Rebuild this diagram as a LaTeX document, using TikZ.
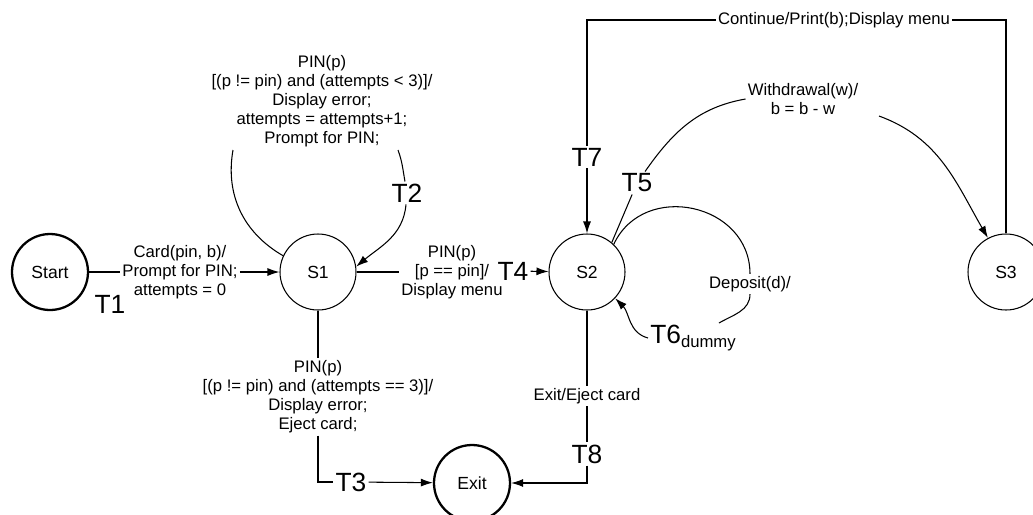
\documentclass[tikz,border=0pt]{standalone}
\usepackage{fontspec}
\setmainfont{Liberation Sans}
\usetikzlibrary{arrows.meta}
\begin{document}
\begin{tikzpicture}[x=0.2mm,y=-0.2mm,line width=0.6pt,
     every node/.style = {font=\fontsize{9.5}{10.8}\selectfont},
     st/.style = {circle,draw,minimum size=15.2mm,inner sep=0pt,
        font=\fontsize{10}{12}\selectfont},
     endst/.style = {st,line width=1.3pt},
     lbl/.style = {align=center,inner sep=1pt},
     tnum/.style = {font=\fontsize{15}{17}\selectfont,inner sep=1pt},
     >={Latex[length=2.4mm,width=1.6mm]}]
     \useasboundingbox (0,0) rectangle (1033,514);
     \node[endst](start) at (50,272) {Start};
     \node[st](s1) at (318,272) {S1};
     \node[st](s2) at (587,272) {S2};
     \node[st](s3) at (1006,272) {S3};
     \node[endst](exit) at (472,483) {Exit};
     \node[lbl](t1lbl) at (180,272) {Card(pin, b)/\\Prompt for PIN;\\attempts = 0};
     \node[tnum](t1) at (110,304) {T1};
     \draw (start) -- (t1lbl);
     \draw[->] (t1lbl) -- (s1);
     \node[lbl](t2lbl) at (322,101) {PIN(p)\\{}[(p != pin) and (attempts < 3)]/\\Display error;\\attempts = attempts+1;\\Prompt for PIN;};
     \coordinate (t2a) at (233,150);
     \coordinate (t2b) at (398,150);
     \node[tnum](t2) at (407,193) {T2};
     \draw (t2a) to[out=-100,in=150] (s1.155);
     \draw (t2b) to[out=-70,in=100] (t2);
     \draw[->] (t2) to[out=-95,in=40] (s1.8);
     \node[lbl](t4lbl) at (452,272) {PIN(p)\\{}[p == pin]/\\Display menu};
     \node[tnum](t4) at (513,271) {T4};
     \draw (s1) -- (t4lbl);
     \draw[->] (t4) -- (s2);
     \node[lbl](t3lbl) at (318,397) {PIN(p)\\{}[(p != pin) and (attempts == 3)]/\\Display error;\\Eject card;};
     \node[tnum](t3) at (351,482) {T3};
     \draw (s1) -- (t3lbl);
     \draw (t3lbl) |- (t3);
     \draw[->] (t3) -- (exit);
     \node[lbl](t8lbl) at (587,396) {Exit/Eject card};
     \node[tnum](t8) at (587,454) {T8};
     \draw (s2) -- (t8lbl);
     \draw (t8lbl) -- (t8);
     \draw[->] (t8) |- (exit);
     \node[lbl](t7lbl) at (834,20) {Continue/Print(b);Display menu};
     \node[tnum](t7) at (587,157) {T7};
     \draw (s3) |- (t7lbl);
     \draw (t7lbl) -| (t7);
     \draw[->] (t7) -- (s2);
     \node[tnum](t5) at (637,183) {T5};
     \node[lbl](wlbl) at (803,99) {Withdrawal(w)/\\b = b - w};
     \coordinate (w1) at (879,116);
     \draw (s2.50) -- (t5);
     \draw (t5) to[out=55,in=190] (wlbl.west);
     \draw[->] (w1) to[out=-20,in=120] (s3.118);
     \node[lbl](deplbl) at (750,284) {Deposit(d)/};
     \node[tnum](t6) at (693,338) {T6\raisebox{-2pt}{\fontsize{9.5}{10}\selectfont dummy}};
     \draw (s2.46) to[out=65,in=90,looseness=1.3] (deplbl.north);
     \draw (deplbl.south) to[out=-90,in=30] (t6);
     \draw[->] (t6.west) to[out=165,in=-45] (s2.-43);
   \end{tikzpicture}
\end{document}
